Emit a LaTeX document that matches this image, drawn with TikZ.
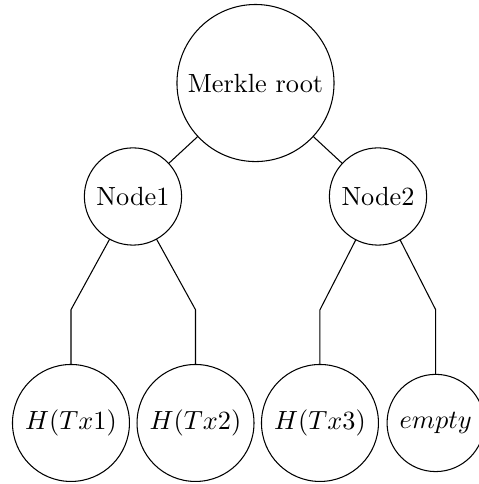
\documentclass[tikz,border=0pt]{standalone}
\usepackage{tikz}
\tikzstyle{hash}=[circle, draw, fill=white,
                  inner sep=0pt, outer sep=0pt]
\tikzstyle{link}=[line width=0.4pt]

\begin{document}
\begin{tikzpicture}
     \useasboundingbox (-3.416,1.11) rectangle (2.975,-5.361);
     \node (root) at (0,0)           [hash, minimum size=2.1cm]{Merkle root};
     \node (n1)   at (-1.638,-1.517) [hash, minimum size=1.3cm]{Node1};
     \node (n2)   at (1.638,-1.517)  [hash, minimum size=1.3cm]{Node2};
     \node (t1)   at (-2.467,-4.545) [hash, minimum size=1.564cm]{$H(Tx1)$};
     \node (t2)   at (-0.802,-4.545) [hash, minimum size=1.564cm]{$H(Tx2)$};
     \node (t3)   at (0.862,-4.545)  [hash, minimum size=1.564cm]{$H(Tx3)$};
     \node (t4)   at (2.409,-4.545)  [hash, minimum size=1.3cm]{$empty$};

     % bends halfway down to the leaves
     \coordinate (b1) at (-2.467,-3.031);
     \coordinate (b2) at (-0.802,-3.031);
     \coordinate (b3) at (0.862,-3.031);
     \coordinate (b4) at (2.409,-3.031);

     \foreach \u/\v in {root/n1,root/n2}
       \draw [link] (\u) to (\v);
     \foreach \u/\b/\v in {n1/b1/t1,n1/b2/t2,n2/b3/t3,n2/b4/t4}
       \draw [link] (\u) -- (\b) -- (\v);
\end{tikzpicture}
\end{document}
